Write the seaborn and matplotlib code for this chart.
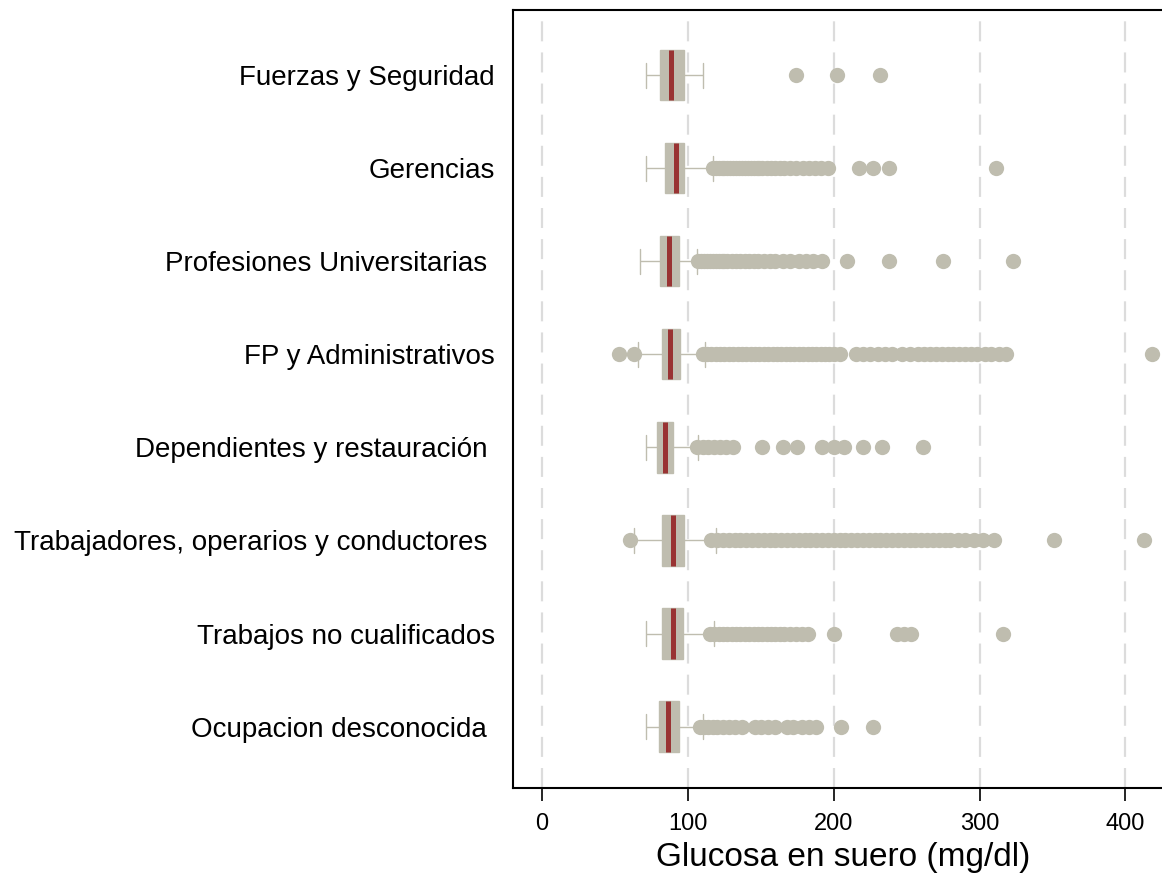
import matplotlib
matplotlib.use("Agg")
import matplotlib.pyplot as plt
import seaborn as sns
import pandas as pd

categories = [
    "Fuerzas y Seguridad",
    "Gerencias",
    "Profesiones Universitarias ",
    "FP y Administrativos",
    "Dependientes y restauración ",
    "Trabajadores, operarios y conductores ",
    "Trabajos no cualificados",
    "Ocupacion desconocida ",
]

# five-number summaries: whisker low, Q1, median, Q3, whisker high
whisker_low = [71, 71, 67, 66, 71, 63, 71, 71]
q1 = [81, 84.5, 81, 82, 78.5, 82.5, 82.5, 80]
median = [88.5, 91.5, 87, 87.5, 84, 89.5, 90, 86.5]
q3 = [97.5, 97.5, 93.5, 94.5, 90, 97, 96.5, 93.5]
whisker_high = [110, 117, 106, 112, 107, 119, 118, 110]

outliers = {
    "Fuerzas y Seguridad": [174, 202, 232],
    "Gerencias": [117, 119, 121, 123, 125, 127, 129, 131, 133, 135, 137, 139, 141,
                  143, 145, 147, 149, 151, 154, 157, 160, 163, 166, 170, 174, 179,
                  183, 187, 191, 196, 217, 227, 238, 311],
    "Profesiones Universitarias ": [107, 109, 111, 113, 115, 117, 119, 121, 123, 125,
                                   127, 130, 133, 136, 139, 142, 145, 148, 152, 156,
                                   160, 165, 170, 176, 181, 186, 192, 209, 238, 275, 323],
    "FP y Administrativos": [53, 63, 110, 113, 116, 119, 122, 125, 128, 131, 134, 137,
                             140, 143, 146, 149, 152, 155, 158, 161, 164, 167, 170, 173,
                             176, 179, 182, 185, 188, 191, 194, 197, 200, 204, 215, 220,
                             225, 230, 235, 240, 247, 252, 258, 262, 266, 270, 274, 278,
                             282, 286, 290, 294, 298, 304, 308, 313, 318, 418],
    "Dependientes y restauración ": [106, 110, 114, 118, 122, 126, 131, 151, 165, 175,
                                     192, 200, 207, 220, 233, 261],
    "Trabajadores, operarios y conductores ": [60, 116, 120, 124, 128, 132, 136, 140,
                                               144, 148, 152, 156, 160, 164, 168, 172,
                                               176, 180, 184, 188, 192, 196, 200, 204,
                                               208, 212, 216, 220, 224, 228, 232, 236,
                                               240, 244, 248, 252, 256, 260, 264, 268,
                                               272, 276, 280, 285, 290, 296, 302, 310,
                                               351, 413],
    "Trabajos no cualificados": [115, 118, 121, 124, 127, 130, 133, 136, 139, 142, 145,
                                 148, 151, 154, 157, 160, 163, 166, 170, 174, 178, 182,
                                 200, 243, 248, 253, 316],
    "Ocupacion desconocida ": [108, 111, 114, 117, 120, 124, 128, 132, 137, 146, 150,
                               155, 160, 168, 172, 178, 183, 188, 205, 227],
}

box_color = "#BFBDAF"
median_color = "#993333"

# Build long-form tables
box_rows = []
for i, c in enumerate(categories):
    for v in (whisker_low[i], q1[i], median[i], q3[i], whisker_high[i]):
        box_rows.append({"ocupacion": c, "glucosa": v})
box_df = pd.DataFrame(box_rows)

out_rows = []
for c in categories:
    for v in outliers[c]:
        out_rows.append({"ocupacion": c, "glucosa": v})
out_df = pd.DataFrame(out_rows)

sns.set_style("white")
plt.rcParams["font.family"] = ["Liberation Sans", "DejaVu Sans"]
plt.rcParams["text.color"] = "black"
plt.rcParams["axes.labelcolor"] = "black"
plt.rcParams["xtick.color"] = "black"
plt.rcParams["ytick.color"] = "black"

W, H = 1162, 881
fig = plt.figure(figsize=(W / 100, H / 100), dpi=100)
ax = fig.add_axes([513 / W, (H - 788) / H, (W - 513) / W + 0.01, (788 - 10) / H])

for x in [0, 100, 200, 300, 400]:
    ax.axvline(x, color="#DCDCDC", lw=1.6, ls=(0, (9, 5)), zorder=0)

sns.boxplot(
    data=box_df, x="glucosa", y="ocupacion", order=categories, orient="h",
    whis=(0, 100), width=0.54, color=box_color, saturation=1,
    linecolor=box_color, linewidth=1, showfliers=False,
    medianprops=dict(color=median_color, linewidth=3.6),
    ax=ax, zorder=2,
)
sns.stripplot(
    data=out_df, x="glucosa", y="ocupacion", order=categories, orient="h",
    jitter=False, color=box_color, size=11, linewidth=0, ax=ax, zorder=3,
)

ax.set_xlim(-20, 433)
ax.set_ylim(7.66, -0.7)
ax.set_xticks([0, 100, 200, 300, 400])
ax.set_xticklabels(["0", "100", "200", "300", "400"], fontsize=17)
ax.tick_params(axis="x", bottom=True, direction="out", length=9, width=1.2,
               color="black", labelcolor="black", pad=9)
ax.tick_params(axis="y", left=False, length=0, pad=13, labelsize=20, labelcolor="black")
ax.set_xlabel("Glucosa en suero (mg/dl)", fontsize=24, labelpad=5, color="black")
ax.set_ylabel("")

for s in ["left", "top", "bottom"]:
    ax.spines[s].set_visible(True)
    ax.spines[s].set_color("black")
    ax.spines[s].set_linewidth(1.5)
ax.spines["right"].set_visible(False)

fig.savefig("out.png", dpi=100)
